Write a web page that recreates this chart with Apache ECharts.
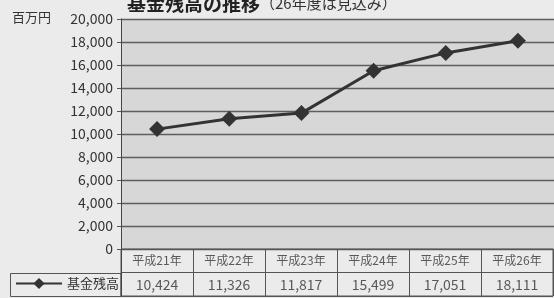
<!DOCTYPE html>
<html><head><meta charset="utf-8">
<script src="https://cdn.jsdelivr.net/npm/echarts@6/dist/echarts.min.js"></script>
<style>html,body{margin:0;padding:0;background:#ebebeb;}#c{width:554px;height:298px;}</style>
</head><body><div id="c"></div>
<script>
const categories = ['平成21年','平成22年','平成23年','平成24年','平成25年','平成26年'];
const fundBalance = [10424, 11326, 11817, 15499, 17051, 18111];
const seriesName = '基金残高';
const unitLabel = '百万円';
const yTicks = {min: 0, max: 20000, interval: 2000};

const FONT = '"Noto Sans CJK JP", "Noto Sans", sans-serif';
const fmt = v => v.toLocaleString('en-US');
const chart = echarts.init(document.getElementById('c'));
chart.setOption({
  backgroundColor: '#ebebeb',
  animation: false,
  textStyle: {fontFamily: FONT},
  title: {
    text: '{a|基金残高の推移}{b|（26年度は見込み）}',
    left: 122, top: -11,
    textStyle: {rich: {
      a: {fontFamily: FONT, fontSize: 19, fontWeight: 'bold', color: '#222'},
      b: {fontFamily: FONT, fontSize: 15, fontWeight: 'normal', color: '#333'}
    }}
  },
  legend: {
    data: [seriesName],
    left: 15, top: 277, padding: 0, itemWidth: 46, itemHeight: 14, itemGap: 4,
    textStyle: {fontFamily: FONT, fontSize: 13, color: '#333'}
  },
  graphic: [
    {type: 'text', left: 12, top: 11, style: {text: unitLabel, font: '13px ' + FONT, fill: '#333'}},
    {type: 'rect', shape: {x: 10.5, y: 273.5, width: 110.5, height: 23}, style: {fill: 'none', stroke: '#555', lineWidth: 1}, silent: true}
  ],
  grid: [
    {left: 121, right: 0, top: 19, bottom: 49, show: true, backgroundColor: '#d7d7d7', borderWidth: 0},
    {left: 121, right: 1, top: 249, bottom: 2, show: true, backgroundColor: 'transparent', borderColor: '#555', borderWidth: 1}
  ],
  xAxis: [
    {gridIndex: 0, type: 'category', data: categories, boundaryGap: true,
     axisLine: {show: true, lineStyle: {color: '#555', width: 1}}, axisTick: {show: false}, axisLabel: {show: false}},
    {gridIndex: 1, type: 'category', data: categories, boundaryGap: true,
     axisLine: {show: false}, axisTick: {show: false}, axisLabel: {show: false},
     splitLine: {show: true, lineStyle: {color: '#555', width: 1}}}
  ],
  yAxis: [
    {gridIndex: 0, type: 'value', min: yTicks.min, max: yTicks.max, interval: yTicks.interval,
     axisLine: {show: true, lineStyle: {color: '#444', width: 1}},
     axisTick: {show: true, length: 4, lineStyle: {color: '#555'}},
     axisLabel: {fontFamily: FONT, fontSize: 14, color: '#333', margin: 8, formatter: v => fmt(v)},
     splitLine: {show: true, lineStyle: {color: '#5e5e5e', width: 1.3}}},
    {gridIndex: 1, type: 'category', data: ['value','year'], boundaryGap: true,
     axisLine: {show: true, lineStyle: {color: '#444'}}, axisTick: {show: false}, axisLabel: {show: false},
     splitLine: {show: true, lineStyle: {color: '#555', width: 1}}}
  ],
  series: [
    {name: seriesName, type: 'line', xAxisIndex: 0, yAxisIndex: 0, data: fundBalance,
     symbol: 'diamond', symbolSize: 16, lineStyle: {color: '#333', width: 3}, itemStyle: {color: '#333'}},
    {type: 'scatter', xAxisIndex: 1, yAxisIndex: 1, symbolSize: 0, silent: true,
     data: categories.map(c => [c, 'year']),
     label: {show: true, position: 'inside', formatter: p => p.value[0], fontFamily: FONT, fontSize: 12, color: '#333'}},
    {type: 'scatter', xAxisIndex: 1, yAxisIndex: 1, symbolSize: 0, silent: true,
     data: categories.map((c, i) => [c, 'value', fundBalance[i]]),
     label: {show: true, position: 'inside', formatter: p => fmt(p.value[2]), fontFamily: FONT, fontSize: 14, color: '#333'}}
  ]
});
</script></body></html>
